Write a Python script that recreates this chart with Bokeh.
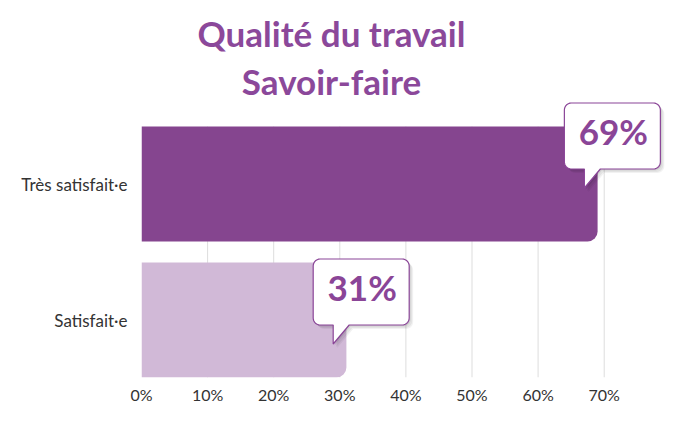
import numpy as np
from bokeh.plotting import figure
from bokeh.models import Range1d, FixedTicker
from bokeh.core.properties import value
from bokeh.embed import file_html
from bokeh.resources import INLINE

# ---------------- data ----------------
categories = ["Satisfait·e", "Très satisfait·e"]   # bottom to top
percent = [31, 69]
bar_colors = ["#D1B9D7", "#85458F"]
tick_values = [0, 10, 20, 30, 40, 50, 60, 70]
tick_labels = ["0%", "10%", "20%", "30%", "40%", "50%", "60%", "70%"]
title_lines = ["Qualité du travail", "Savoir-faire"]

# ---------------- layout (pixels) ----------------
W, H = 670, 407
ML, MR, MT = 141, 2, 0
FRAME_BOTTOM = 377
MB = H - FRAME_BOTTOM
FW, FH = W - ML - MR, FRAME_BOTTOM - MT
PX_PER_PCT = 6.61
PX_PER_ROW = 136.0
BAR_PX = 115.0

x_start = 0.0
x_end = FW / PX_PER_PCT
ys = list(range(len(categories)))
bar_h = BAR_PX / PX_PER_ROW
y_start = ys[0] - bar_h / 2
y_end = y_start + FH / PX_PER_ROW

TEXT_PURPLE = "#8A4597"
TITLE_PURPLE = "#8B489A"
FONT = "Lato"
TEXT_SHIFT = 17  # renderer places alphabetic baseline lower than asked


def sy(py_from_top):
    """screen y (px from canvas top) -> data y"""
    return y_end - (py_from_top - MT) / PX_PER_ROW


def sx(px_from_left):
    return x_start + (px_from_left - ML) / PX_PER_PCT


p = figure(width=W, height=H, output_backend="svg", toolbar_location=None,
           x_range=Range1d(x_start, x_end), y_range=Range1d(y_start, y_end),
           min_border_left=ML, min_border_right=MR, min_border_top=MT,
           min_border_bottom=MB, background_fill_color="white",
           border_fill_color="white", outline_line_color=None)
p.xgrid.visible = False
p.ygrid.visible = False

# manual grid lines that stop at the top bar
gx = tick_values[1:]
p.segment(x0=gx, x1=gx, y0=[y_start] * len(gx),
          y1=[ys[-1] + bar_h / 2] * len(gx), line_color="#DDDDDD", line_width=1)

# bars
p.hbar(y=ys, left=0, right=percent, height=bar_h, fill_color=bar_colors,
       line_color=None, border_radius=(0, 10, 10, 0))

# callouts
tip_drop_px = [24, 4]
BOX_W, BOX_H, BOX_R = 96, 66, 7
BOX_LEFT, BOX_BOTTOM, TAIL_R = -20, 19, 16


def outline(n=8):
    x0, x1 = BOX_LEFT, BOX_LEFT + BOX_W
    y0, y1 = BOX_BOTTOM, BOX_BOTTOM + BOX_H
    r = BOX_R
    pts = [(0, 0), (TAIL_R, y0)]

    def arc(cx, cy, a0, a1):
        for a in np.linspace(a0, a1, n):
            pts.append((cx + r * np.cos(a), cy + r * np.sin(a)))

    arc(x1 - r, y0 + r, -np.pi / 2, 0)
    arc(x1 - r, y1 - r, 0, np.pi / 2)
    arc(x0 + r, y1 - r, np.pi / 2, np.pi)
    arc(x0 + r, y0 + r, np.pi, 1.5 * np.pi)
    pts.append((0, y0))
    return np.array(pts)


shape = outline()
for i, v in enumerate(percent):
    tip_x = v - 2.0
    tip_y = ys[i] - tip_drop_px[i] / PX_PER_ROW
    for off, alpha in [(4, 0.05), (3, 0.06), (1.5, 0.08)]:
        p.patch(tip_x + (shape[:, 0] + off) / PX_PER_PCT,
                tip_y + (shape[:, 1] - off) / PX_PER_ROW,
                fill_color="black", fill_alpha=alpha, line_color=None)
    p.patch(tip_x + shape[:, 0] / PX_PER_PCT, tip_y + shape[:, 1] / PX_PER_ROW,
            fill_color="white", line_color=TEXT_PURPLE, line_width=1.2)
    p.text(x=[tip_x + (BOX_LEFT + BOX_W / 2 + 1) / PX_PER_PCT],
           y=[tip_y + (42 + TEXT_SHIFT - 2) / PX_PER_ROW], text=[f"{v}%"],
           text_font=value(FONT), text_font_style="bold",
           text_font_size="35px", text_color=TEXT_PURPLE,
           text_align="center", text_baseline="alphabetic")

# title
title_baselines_px = [46, 94]
for line, bpx in zip(title_lines, title_baselines_px):
    p.text(x=[sx(331)], y=[sy(bpx - TEXT_SHIFT + 3)], text=[line],
           text_font=value(FONT), text_font_style="bold",
           text_font_size="35px", text_color=TITLE_PURPLE,
           text_align="center", text_baseline="alphabetic")

# axes
p.xaxis.ticker = FixedTicker(ticks=tick_values)
p.xaxis.major_label_overrides = {t: l for t, l in zip(tick_values, tick_labels)}
p.xaxis.axis_line_color = None
p.xaxis.major_tick_line_color = None
p.xaxis.minor_tick_line_color = None
p.xaxis.major_tick_out = 0
p.xaxis.major_label_standoff = 7
p.xaxis.major_label_text_font = FONT
p.xaxis.major_label_text_font_size = "16px"
p.xaxis.major_label_text_color = "#333333"

p.yaxis.ticker = FixedTicker(ticks=ys)
p.yaxis.major_label_overrides = {y: c for y, c in zip(ys, categories)}
p.yaxis.axis_line_color = None
p.yaxis.major_tick_line_color = None
p.yaxis.minor_tick_line_color = None
p.yaxis.major_tick_out = 0
p.yaxis.major_label_standoff = 14
p.yaxis.major_label_text_font = FONT
p.yaxis.major_label_text_font_size = "17px"
p.yaxis.major_label_text_color = "#333333"

open("out.html", "w").write(file_html(p, INLINE))
